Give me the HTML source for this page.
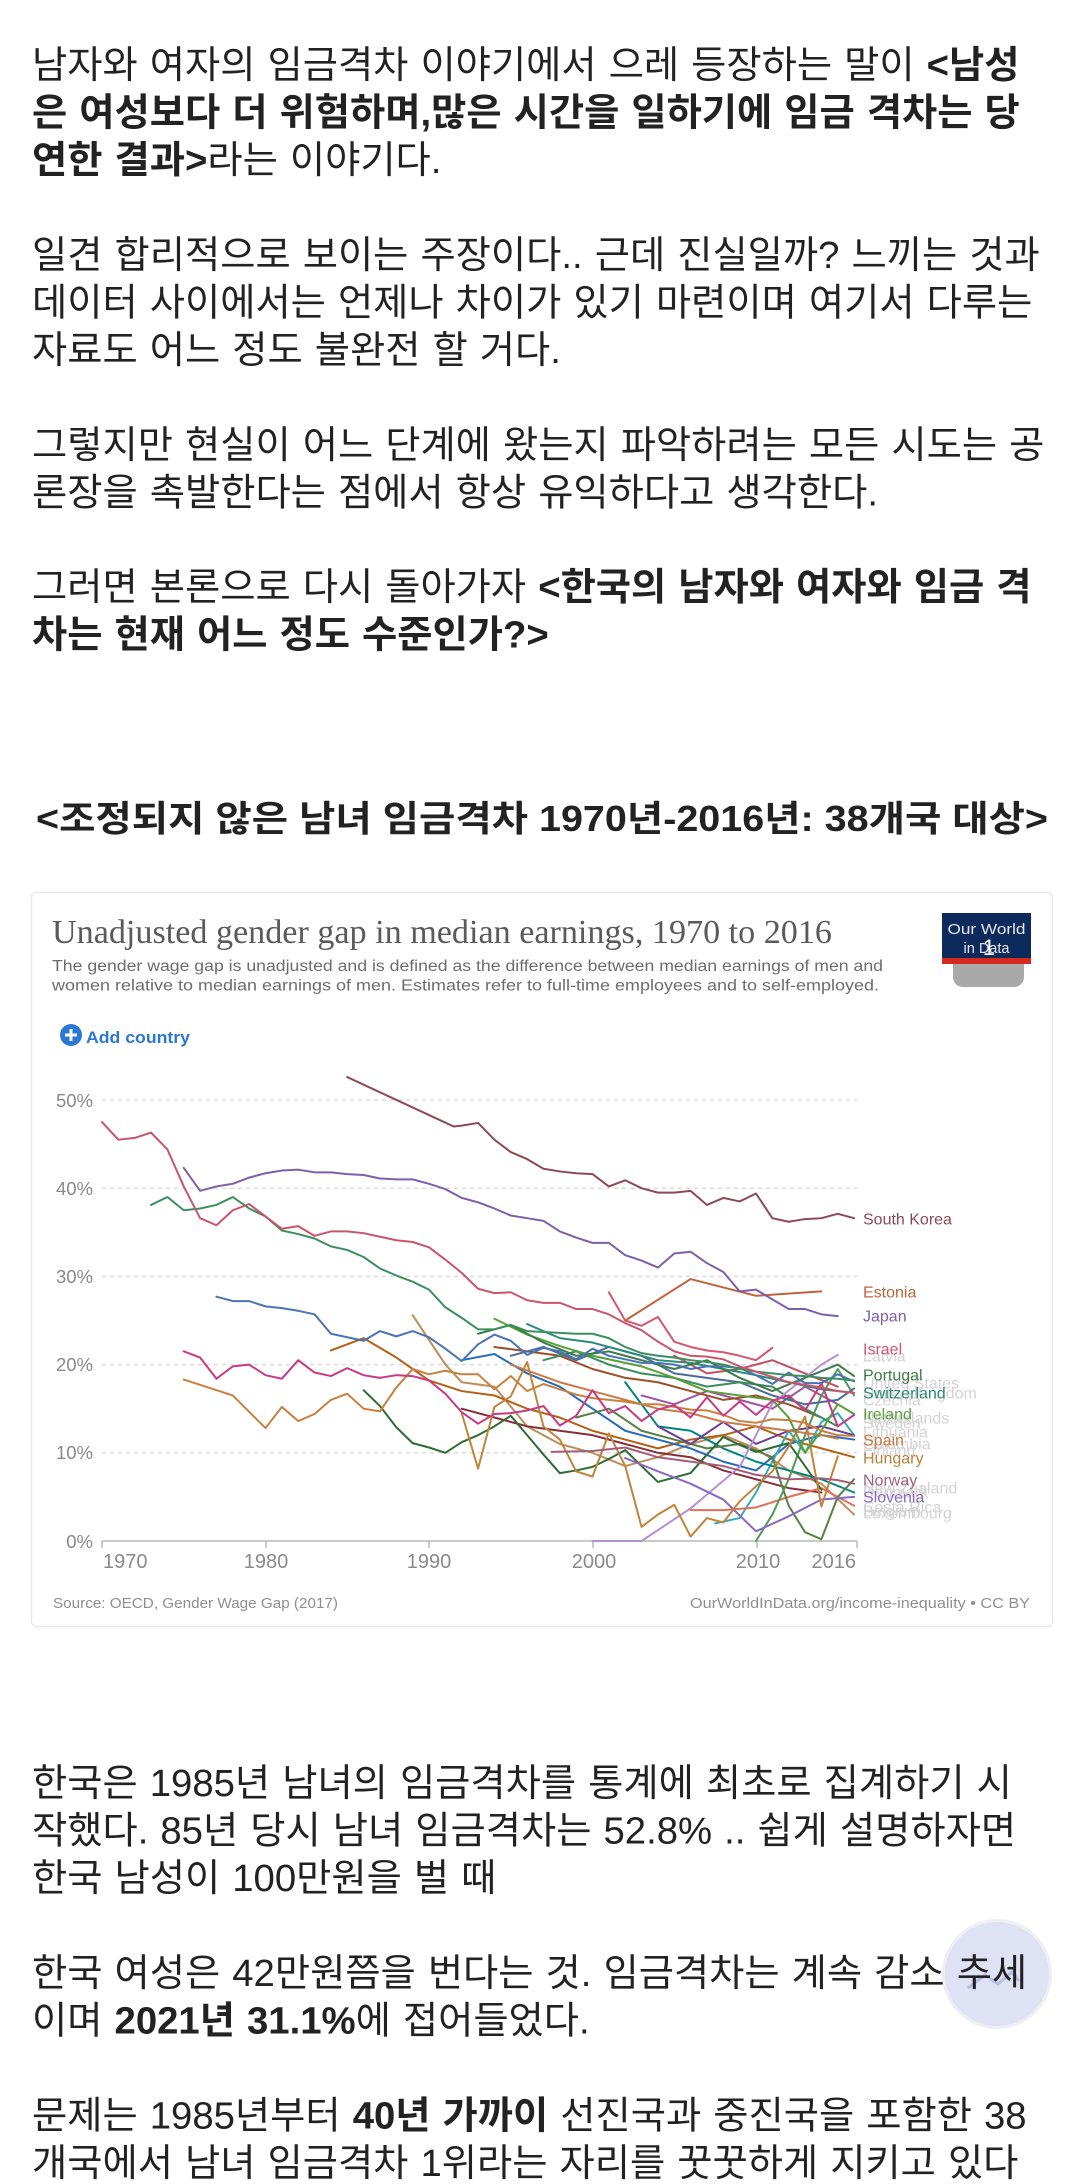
<!DOCTYPE html>
<html>
<head>
<meta charset="utf-8">
<style>
html,body{margin:0;padding:0;background:#fff;}
body{width:1080px;height:2184px;overflow:hidden;}
svg{display:block;}
</style>
</head>
<body>
<svg width="1080" height="2184" viewBox="0 0 1080 2184" xmlns="http://www.w3.org/2000/svg">
<rect width="1080" height="2184" fill="#fff"/>

<!-- Body text top -->
<g font-family="'Liberation Sans','Noto Sans CJK KR',sans-serif" font-size="38.3" fill="#222" word-spacing="1.4">
<text x="32" y="78">남자와 여자의 임금격차 이야기에서 으레 등장하는 말이 <tspan font-weight="bold">&lt;남성</tspan></text>
<text x="32" y="125.5" font-weight="bold">은 여성보다 더 위험하며,많은 시간을 일하기에 임금 격차는 당</text>
<text x="32" y="173"><tspan font-weight="bold">연한 결과&gt;</tspan>라는 이야기다.</text>

<text x="32" y="268">일견 합리적으로 보이는 주장이다.. 근데 진실일까? 느끼는 것과</text>
<text x="32" y="315.5">데이터 사이에서는 언제나 차이가 있기 마련이며 여기서 다루는</text>
<text x="32" y="363">자료도 어느 정도 불완전 할 거다.</text>

<text x="32" y="458">그렇지만 현실이 어느 단계에 왔는지 파악하려는 모든 시도는 공</text>
<text x="32" y="505.5">론장을 촉발한다는 점에서 항상 유익하다고 생각한다.</text>

<text x="32" y="600">그러면 본론으로 다시 돌아가자 <tspan font-weight="bold">&lt;한국의 남자와 여자와 임금 격</tspan></text>
<text x="32" y="647.5" font-weight="bold">차는 현재 어느 정도 수준인가?&gt;</text>
</g>
<text x="542" y="831" text-anchor="middle" font-family="'Liberation Sans','Noto Sans CJK KR',sans-serif" fill="#222" font-size="36" font-weight="bold" textLength="1012" lengthAdjust="spacingAndGlyphs">&lt;조정되지 않은 남녀 임금격차 1970년-2016년: 38개국 대상&gt;</text>

<!-- Chart card -->
<rect x="31.5" y="892.5" width="1021" height="734" rx="5" fill="#fff" stroke="#e9e9e9" stroke-width="1.5"/>

<!-- Title / subtitle -->
<text x="52" y="943" font-family="'Liberation Serif',serif" font-size="34" fill="#5a5a5a" textLength="780" lengthAdjust="spacingAndGlyphs">Unadjusted gender gap in median earnings, 1970 to 2016</text>
<g font-family="'Liberation Sans',sans-serif" font-size="15.5" fill="#6c6c6c">
<text x="52" y="971" textLength="831" lengthAdjust="spacingAndGlyphs">The gender wage gap is unadjusted and is defined as the difference between median earnings of men and</text>
<text x="52" y="990.5" textLength="827" lengthAdjust="spacingAndGlyphs">women relative to median earnings of men. Estimates refer to full-time employees and to self-employed.</text>
</g>

<!-- Logo -->
<path d="M953 950 H1024 V977 a10 10 0 0 1 -10 10 H963 a10 10 0 0 1 -10 -10 Z" fill="#a9a9a9"/>
<rect x="942" y="913" width="89" height="46" fill="#0d2a5c"/>
<rect x="942" y="958" width="89" height="6" fill="#d42b21"/>
<g font-family="'Liberation Sans',sans-serif" font-size="14.5" fill="#e6e6e6" text-anchor="middle">
<text x="986.5" y="934" textLength="78" lengthAdjust="spacingAndGlyphs">Our World</text>
<text x="986.5" y="953">in Data</text>
</g>
<text x="989" y="955" font-family="'Liberation Sans',sans-serif" font-size="22" fill="#fff" text-anchor="middle">1</text>

<!-- Add country -->
<circle cx="71" cy="1035" r="11" fill="#2b78d6"/>
<rect x="65" y="1033.5" width="12" height="3" fill="#fff"/>
<rect x="69.5" y="1029" width="3" height="12" fill="#fff"/>
<text x="86" y="1043" font-family="'Liberation Sans',sans-serif" font-size="17" font-weight="bold" fill="#2b78d6" textLength="104" lengthAdjust="spacingAndGlyphs">Add country</text>

<!-- Grid -->
<g stroke="#dcdcdc" stroke-width="1.5" stroke-dasharray="4 4">
<line x1="102" y1="1100" x2="857" y2="1100"/>
<line x1="102" y1="1188.2" x2="857" y2="1188.2"/>
<line x1="102" y1="1276.4" x2="857" y2="1276.4"/>
<line x1="102" y1="1364.6" x2="857" y2="1364.6"/>
<line x1="102" y1="1452.8" x2="857" y2="1452.8"/>
</g>
<g stroke="#b8b8b8" stroke-width="1.5">
<line x1="102" y1="1541" x2="857" y2="1541"/>
<line x1="102" y1="1541" x2="102" y2="1548"/>
<line x1="266" y1="1541" x2="266" y2="1548"/>
<line x1="429" y1="1541" x2="429" y2="1548"/>
<line x1="593" y1="1541" x2="593" y2="1548"/>
<line x1="757" y1="1541" x2="757" y2="1548"/>
<line x1="857" y1="1541" x2="857" y2="1548"/>
</g>
<g font-family="'Liberation Sans',sans-serif" font-size="18.5" fill="#8a8a8a" text-anchor="end">
<text x="93" y="1107">50%</text>
<text x="93" y="1195">40%</text>
<text x="93" y="1283">30%</text>
<text x="93" y="1371">20%</text>
<text x="93" y="1459">10%</text>
<text x="93" y="1548">0%</text>
</g>
<g font-family="'Liberation Sans',sans-serif" font-size="20" fill="#8a8a8a" text-anchor="middle">
<text x="103" y="1568" text-anchor="start">1970</text>
<text x="266" y="1568">1980</text>
<text x="429" y="1568">1990</text>
<text x="594" y="1568">2000</text>
<text x="758" y="1568">2010</text>
<text x="856" y="1568" text-anchor="end">2016</text>
</g>

<!-- Series -->
<g transform="translate(102 1541) scale(16.35 -8.82)" fill="none" stroke-width="2" stroke-linejoin="round" stroke-linecap="round">
<polyline vector-effect="non-scaling-stroke" stroke="#bc8e5a" points="19,25.6 21,20.0 22,18.0 24,17.5 26,13.0 28,11.0 30,10.0 32,8.5 34,9.5 36,11.0 38,12.0 40,10.5 42,8.0 44,6.5 46,3.0"/>
<polyline vector-effect="non-scaling-stroke" stroke="#b16214" points="14,21.6 16,23.0 18,20.8 20,18.2 22,17.0 24,16.5 26,15.0 28,14.0 30,12.5 32,11.5 34,10.5 36,11.5 38,12.0 40,13.0 42,11.5 44,10.5 46,9.5"/>
<polyline vector-effect="non-scaling-stroke" stroke="#286bbb" points="22,20.5 24,21.2 26,19.0 28,17.5 30,15.0 32,12.5 34,11.5 36,10.5 38,9.0 40,8.0 42,11.0 44,12.0 46,11.5"/>
<polyline vector-effect="non-scaling-stroke" stroke="#38aaba" points="37.5,2.0 39,2.6 40,5.5 41,9.0 42,12.5 43,10.0 44,13.5 45,14.5 46,12.0"/>
<polyline vector-effect="non-scaling-stroke" stroke="#00847e" points="32,18.0 34,13.0 36,12.5 38,10.5 40,9.0 42,8.0 44,7.0 46,5.5"/>
<polyline vector-effect="non-scaling-stroke" stroke="#883039" points="22,15.0 24,14.0 26,13.0 28,12.5 30,12.0 32,11.0 34,10.0 36,9.5 38,8.0 40,7.0 42,6.0 44,5.5"/>
<polyline vector-effect="non-scaling-stroke" stroke="#e56e5a" points="36,3.5 38,3.5 40,3.8 42,5.0 44,6.0 46,4.0"/>
<polyline vector-effect="non-scaling-stroke" stroke="#578145" points="29,14.0 31,15.0 33,12.5 35,11.5 37,10.5 39,11.0 41,9.5 42,4.0 43,1.0 44,0.2 45,5.0 46,7.0"/>
<polyline vector-effect="non-scaling-stroke" stroke="#a2559c" points="33,16.5 35,15.5 37,17.0 39,16.0 41,15.0 43,17.5 45,15.5"/>
<polyline vector-effect="non-scaling-stroke" stroke="#4f9a55" points="40,0.0 41,3.0 42,7.0 43,12.0 44,16.5 45,19.5 46,16.5"/>
<polyline vector-effect="non-scaling-stroke" stroke="#9a5129" points="24,22.0 26,21.5 28,21.0 30,19.5 32,18.5 34,18.0 36,17.0 38,16.0 40,16.5 42,15.5 44,14.0"/>
<polyline vector-effect="non-scaling-stroke" stroke="#4c6a9c" points="25,21.0 27,22.0 29,20.5 31,22.0 33,21.0 35,19.0 37,18.5 39,18.0 41,16.5 43,15.5 45,16.0 46,17.3"/>
<polyline vector-effect="non-scaling-stroke" stroke="#c15065" points="35,21.0 37,19.0 39,19.5 41,20.5 43,19.0 45,17.5"/>
<polyline vector-effect="non-scaling-stroke" stroke="#3c8c5c" points="27,20.5 29,21.5 31,20.0 33,19.0 35,18.5 37,17.5 39,18.0 41,17.5 43,15.0 45,13.0"/>
<polyline vector-effect="non-scaling-stroke" stroke="#6d3e91" points="34,13.0 36,11.0 38,13.5 40,11.0 42,12.5 44,13.0 46,12.0"/>
<polyline vector-effect="non-scaling-stroke" stroke="#2f6b35" points="16,17.1 17,15.3 18,12.9 19,11.1 20,10.6 21,10.0 22,11.2 23,12.0 24,13.0 25,14.2 26,12.0 27,9.8 28,7.7 29,8.0 30,8.4 31,9.3 32,10.3 33,8.5 34,6.7 35,7.2 36,7.7 37,9.8 38,11.8 39,10.9 40,10.1 41,10.6 42,11.1 43,8.5 44,5.8"/>
<polyline vector-effect="non-scaling-stroke" stroke="#b491d6" points="30,0 33,0 36,3.7 39,8.4 41,15.6 44,20.0 45,21.1"/>
<polyline vector-effect="non-scaling-stroke" stroke="#8a6ac0" points="32,9.4 34,7.9 36,6.5 38,4.7 40,1.1 42,2.8 44,4.7 46,5.0"/>
<polyline vector-effect="non-scaling-stroke" stroke="#c0843a" points="22,14.5 23,8.2 24,15.2 25,16.4 26,20.3 27,13.0 28,11.5 29,7.9 30,7.3 31,12.2 32,8.5 33,1.6 34,3.0 35,4.1 36,0.5 37,2.6 38,2.1 39,4.5 40,6.2 41,7.9 42,10.7 43,14.1 44,3.9 45,9.6"/>
<polyline vector-effect="non-scaling-stroke" stroke="#a0607a" points="27.5,10.1 30,10.2 32,10.6 34,9.5 36,9.0 38,8.5 40,7.5 42,7.0 44,7.1 45,6.9 46,6.5"/>
<polyline vector-effect="non-scaling-stroke" stroke="#c97a46" points="25,20.0 28,18.0 30,17.0 32,16.0 34,15.0 36,14.5 38,13.5 40,13.0 42,12.5 44,12.0 45,11.6"/>
<polyline vector-effect="non-scaling-stroke" stroke="#58a03a" points="24,25.2 26,23.4 28,22.1 30,21.0 33,19.8 35,18.5 37,17.0 39,16.5 41,16.0 42,14.0 43,10.0 44,12.5 45,15.5 46,14.4"/>
<polyline vector-effect="non-scaling-stroke" stroke="#2c8a78" points="26,24.6 28,23.0 30,22.5 32,21.5 34,20.5 36,20.2 38,19.5 40,18.8 42,18.0 44,17.2 46,16.8"/>
<polyline vector-effect="non-scaling-stroke" stroke="#3f7a4a" points="23,23.5 25,24.5 27,22.5 29,21.0 31,21.5 33,20.5 35,19.5 37,20.5 39,18.5 41,17.0 43,18.5 45,20.0 46,18.7"/>
<polyline vector-effect="non-scaling-stroke" stroke="#c9803f" points="5,18.3 8,16.5 10,12.8 11,15.2 12,13.6 13,14.4 14,16.0 15,16.7 16,15.0 17,14.7 18,17.4 19,19.5 20,18.9 21,19.3 22,18.9 23,18.9 24,17.2 25,18.7 26,17.0 27,17.8 28,17.2 29,16.6 30,16.2 31,16.0 32,15.8 33,15.5 34,15.5 35,15.2 36,14.9 37,14.8 38,14.3 39,13.6 40,13.4 41,13.8 42,13.7 43,13.4 44,12.5 45,12.0 46,11.9"/>
<polyline vector-effect="non-scaling-stroke" stroke="#c93a84" points="5,21.5 6,20.8 7,18.4 8,19.8 9,20.0 10,18.8 11,18.4 12,20.5 13,19.1 14,18.7 15,19.6 16,18.8 17,18.5 18,18.8 19,18.7 20,18.2 21,16.7 22,14.6 23,13.3 24,14.4 25,14.5 26,14.8 27,15.3 28,13.1 29,14.2 30,17.1 31,14.5 32,15.3 33,13.6 34,14.9 35,15.4 36,14.0 37,16.3 38,14.2 39,15.8 40,14.3 41,15.9 42,16.5 43,14.8 44,17.9 45,13.0 46,14.3"/>
<polyline vector-effect="non-scaling-stroke" stroke="#4a73b3" points="7,27.7 8,27.2 9,27.2 10,26.6 11,26.4 12,26.1 13,25.7 14,23.5 15,23.1 16,22.7 17,23.8 18,23.2 19,23.8 20,23.1 21,21.8 22,20.4 23,22.3 24,23.4 25,22.7 26,21.1 27,21.9 28,21.5 29,20.6 30,21.8 31,21.0 32,20.6 33,20.2 34,20.2 35,20.0 36,19.5 37,19.8 38,19.8 39,19.6 40,18.8 41,17.8 42,19.1 43,17.9 44,17.9 45,18.9 46,18.1"/>
<polyline vector-effect="non-scaling-stroke" stroke="#3b8f5e" points="3,38.1 4,39.0 5,37.5 6,37.7 7,38.1 8,39.0 9,37.7 10,36.8 11,35.2 12,34.8 13,34.3 14,33.4 15,33.0 16,32.2 17,30.9 18,30.1 19,29.4 20,28.5 21,26.5 22,25.3 23,24.0 24,24.0 25,24.5 26,23.8 27,23.7 28,23.6 29,23.5 30,23.5 31,23.0 32,22.0 33,21.3 34,21.0 35,20.8 36,20.5 37,20.3 38,20.0 39,19.5 40,19.2 41,19.0 42,18.8 43,18.7 44,18.5 45,18.4 46,18.2"/>
<polyline vector-effect="non-scaling-stroke" stroke="#c8566a" points="0,47.5 1,45.5 2,45.7 3,46.3 4,44.4 5,40.2 6,36.6 7,35.8 8,37.5 9,38.2 10,36.8 11,35.4 12,35.7 13,34.6 14,35.1 15,35.1 16,34.9 17,34.5 18,34.1 19,33.9 20,33.3 21,31.9 22,30.4 23,28.6 24,28.1 25,28.2 26,27.3 27,27.0 28,27.0 29,26.3 30,26.3 31,25.7 32,24.7 33,23.9 34,22.6 35,21.5 36,21.0 37,20.9 38,20.6 39,19.8 40,19.2 41,18.6 42,18.0 43,17.7 44,17.4 45,17.0 46,16.8"/>
<polyline vector-effect="non-scaling-stroke" stroke="#d5566d" points="31,28.2 32,25.0 33,24.4 34,25.4 35,22.6 36,22.0 37,21.6 38,21.4 39,21.0 40,20.5 41,21.9"/>
<polyline vector-effect="non-scaling-stroke" stroke="#c0633b" points="32,25.0 36,29.7 40,27.8 44,28.3"/>
<polyline vector-effect="non-scaling-stroke" stroke="#7d5fa9" points="5,42.3 6,39.7 7,40.2 8,40.5 9,41.2 10,41.7 11,42.0 12,42.1 13,41.8 14,41.8 15,41.6 16,41.5 17,41.1 18,41.0 19,41.0 20,40.5 21,39.9 22,38.9 23,38.4 24,37.7 25,36.9 26,36.6 27,36.3 28,35.1 29,34.4 30,33.8 31,33.8 32,32.4 33,31.8 34,31.0 35,32.6 36,32.8 37,31.5 38,30.5 39,28.3 40,28.5 41,27.4 42,26.3 43,26.3 44,25.7 45,25.5"/>
<polyline vector-effect="non-scaling-stroke" stroke="#8c4a56" points="15,52.6 21.5,47.0 22,47.1 23,47.4 24,45.5 25,44.1 26,43.3 27,42.2 28,41.9 29,41.7 30,41.6 31,40.2 32,40.9 33,40.0 34,39.5 35,39.5 36,39.7 37,38.1 38,38.9 39,38.5 40,39.4 41,36.6 42,36.2 43,36.5 44,36.6 45,37.1 46,36.6"/>
</g>

<!-- End labels -->
<g font-family="'Liberation Sans',sans-serif" font-size="16" fill="#d3d3d3">
<text x="863" y="1361.5">Latvia</text>
<text x="863" y="1388.5">United States</text>
<text x="863" y="1398.5">United Kingdom</text>
<text x="863" y="1405.5">Czechia</text>
<text x="863" y="1423.5">Netherlands</text>
<text x="863" y="1428.5">Sweden</text>
<text x="863" y="1437.5">Lithuania</text>
<text x="863" y="1449.5">Colombia</text>
<text x="863" y="1455.5">Finland</text>
<text x="863" y="1493.5">New Zealand</text>
<text x="863" y="1497.5">Denmark</text>
<text x="863" y="1512.5">Costa Rica</text>
<text x="863" y="1516.5">Belgium</text>
<text x="863" y="1518.5">Luxembourg</text>
</g>
<g font-family="'Liberation Sans',sans-serif" font-size="16">
<text x="863" y="1224.5" fill="#8c4a56">South Korea</text>
<text x="863" y="1297.5" fill="#c0633b">Estonia</text>
<text x="863" y="1321.5" fill="#7d5fa9">Japan</text>
<text x="863" y="1354.5" fill="#d5566d">Israel</text>
<text x="863" y="1380.5" fill="#3f7a4a">Portugal</text>
<text x="863" y="1398.5" fill="#2c8a78">Switzerland</text>
<text x="863" y="1419.5" fill="#58a03a">Ireland</text>
<text x="863" y="1445.5" fill="#c97a46">Spain</text>
<text x="863" y="1463.5" fill="#b8823a">Hungary</text>
<text x="863" y="1485.5" fill="#a0607a">Norway</text>
<text x="863" y="1502.5" fill="#8a6ac0">Slovenia</text>
</g>

<!-- Footer -->
<g font-family="'Liberation Sans',sans-serif" font-size="15" fill="#8f8f8f">
<text x="53" y="1608" textLength="285" lengthAdjust="spacingAndGlyphs">Source: OECD, Gender Wage Gap (2017)</text>
<text x="1030" y="1608" text-anchor="end" textLength="340" lengthAdjust="spacingAndGlyphs">OurWorldInData.org/income-inequality • CC BY</text>
</g>

<!-- Floating button -->
<circle cx="997" cy="1974" r="55" fill="#eeeef3"/>
<circle cx="997" cy="1974" r="52" fill="#dfe2f4"/>
<polyline points="968,1988 985,1975 998,1984 1012,1972 1019,1981" fill="none" stroke="#b6bce6" stroke-width="3"/>

<!-- Body text bottom -->
<g font-family="'Liberation Sans','Noto Sans CJK KR',sans-serif" font-size="38.3" fill="#222" word-spacing="1.4">
<text x="32" y="1796">한국은 1985년 남녀의 임금격차를 통계에 최초로 집계하기 시</text>
<text x="32" y="1843.5">작했다. 85년 당시 남녀 임금격차는 52.8% .. 쉽게 설명하자면</text>
<text x="32" y="1891">한국 남성이 100만원을 벌 때</text>
<text x="32" y="1986">한국 여성은 42만원쯤을 번다는 것. 임금격차는 계속 감소 추세</text>
<text x="32" y="2033.5">이며 <tspan font-weight="bold">2021년 31.1%</tspan>에 접어들었다.</text>
<text x="32" y="2128.5">문제는 1985년부터 <tspan font-weight="bold">40년 가까이</tspan> 선진국과 중진국을 포함한 38</text>
<text x="32" y="2176">개국에서 남녀 임금격차 1위라는 자리를 꿋꿋하게 지키고 있다</text>
</g>
</svg>
</body>
</html>
